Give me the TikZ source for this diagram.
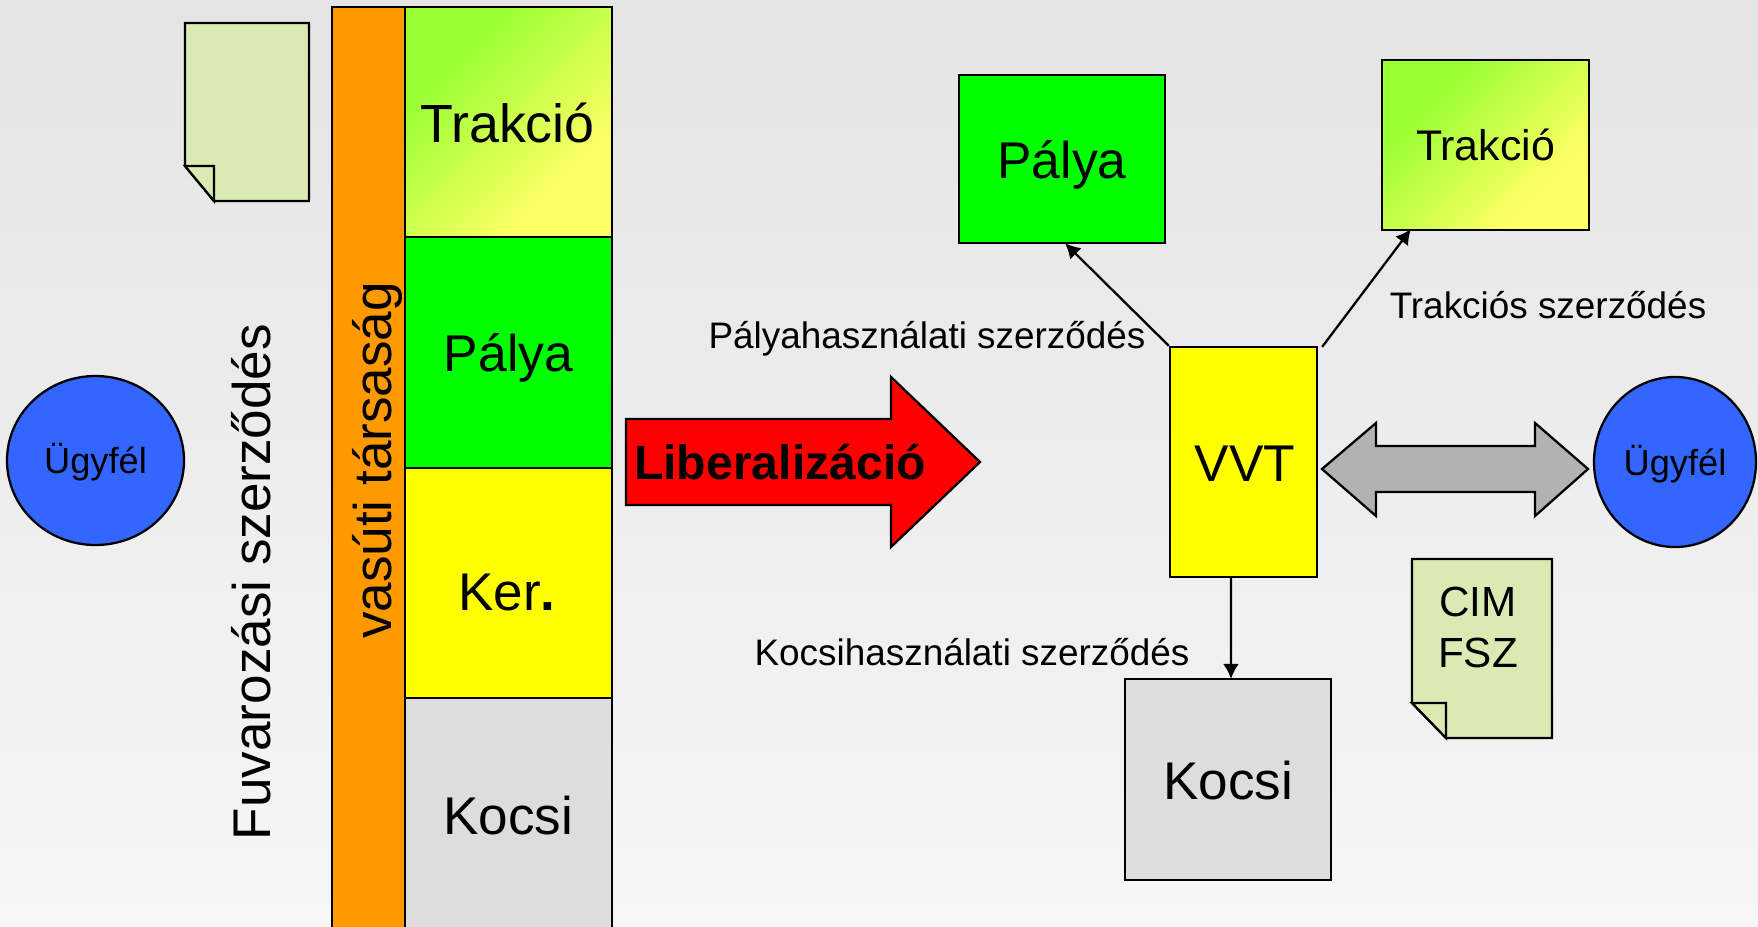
\documentclass[tikz,border=0pt]{standalone}
\usepackage{fontspec}
\setmainfont{Liberation Sans}
\usetikzlibrary{shapes.geometric}
\usetikzlibrary{arrows.meta}
\definecolor{bluecirc}{HTML}{3366FF}
\definecolor{orangebar}{HTML}{FF9900}
\definecolor{notegreen}{HTML}{D9EBB3}
\definecolor{greyblock}{HTML}{DDDDDD}
\definecolor{greyarrow}{HTML}{B2B2B2}
\definecolor{tracgreen}{HTML}{99FF33}
\definecolor{tracyellow}{HTML}{FFFF66}
\definecolor{blockyellow}{HTML}{FFFF00}
\definecolor{blockgreen}{HTML}{00FF00}
\definecolor{arrowred}{HTML}{FF0000}
\definecolor{backtop}{HTML}{E4E4E4}
\definecolor{backbottom}{HTML}{F6F6F6}
\pgfdeclareverticalshading{tracshade}{100bp}{color(0bp)=(tracyellow); color(31bp)=(tracyellow); color(69bp)=(tracgreen); color(100bp)=(tracgreen)}
\begin{document}
\begin{tikzpicture}[y=-1cm,line width=.65pt,>={Latex[length=1.5mm,width=1.6mm]},
block/.style={draw,rectangle,inner sep=0pt,font=\fontsize{15}{18}\selectfont},
tracblock/.style={block,shading=tracshade,shading angle=45},
client/.style={draw,ellipse,fill=bluecirc,inner sep=0pt,font=\fontsize{10.3}{12}\selectfont},
contract/.style={inner sep=0pt,font=\fontsize{10.5}{13}\selectfont},
bigtext/.style={inner sep=0pt,font=\fontsize{15.1}{18}\selectfont},
notepaper/.style={draw,fill=notegreen}]

\useasboundingbox (0,0) rectangle (17.58,9.26);
\clip (0,0) rectangle (17.58,9.26);
\shade[top color=backtop,bottom color=backbottom] (0,0) rectangle (17.58,9.26);

% left column
\draw (3.685,4.70) node[block,fill=orangebar,minimum width=.73cm,minimum height=9.26cm] (Bar) {};
\draw (5.085,1.22) node[tracblock,minimum width=2.07cm,minimum height=2.30cm] (TracL) {};
\draw (5.085,3.525) node[block,fill=blockgreen,minimum width=2.07cm,minimum height=2.31cm] (PalyaL) {};
\draw (5.085,5.83) node[block,fill=blockyellow,minimum width=2.07cm,minimum height=2.30cm] (KerL) {};
\draw (5.085,8.155) node[block,fill=greyblock,minimum width=2.07cm,minimum height=2.35cm] (KocsiL) {};
\draw (5.075,1.23) node[bigtext,font=\fontsize{15.3}{18}\selectfont] (TracLText) {Trakció};
\draw (5.085,3.58) node[bigtext,font=\fontsize{14.7}{18}\selectfont] (PalyaLText) {Pálya};
\draw (5.07,5.92) node[bigtext] (KerText) {Ker\textbf{.}};
\draw (5.08,8.16) node[bigtext] (KocsiLText) {Kocsi};
\draw (3.77,4.605) node[bigtext,rotate=90] (BarText) {vasúti társaság};
\draw (2.51,5.82) node[bigtext,rotate=90] (Fuvar) {Fuvarozási szerződés};

% clients
\draw (.955,4.605) node[client,minimum width=1.77cm,minimum height=1.69cm] (ClientL) {};
\draw (16.75,4.62) node[client,minimum width=1.62cm,minimum height=1.70cm] (ClientR) {};
\draw (.955,4.625) node[client,draw=none,fill=none] (ClientLText) {Ügyfél};
\draw (16.75,4.64) node[client,draw=none,fill=none] (ClientRText) {Ügyfél};

% notes
\draw[notepaper] (1.85,.23) -- (3.09,.23) -- (3.09,2.01) -- (2.14,2.01) -- (1.85,1.66) -- cycle;
\draw[notepaper] (1.85,1.66) -- (2.14,1.66) -- (2.14,2.01) -- cycle;
\draw[notepaper] (14.12,5.59) -- (15.52,5.59) -- (15.52,7.38) -- (14.46,7.38) -- (14.12,7.03) -- cycle;
\draw[notepaper] (14.12,7.03) -- (14.46,7.03) -- (14.46,7.38) -- cycle;
\draw (14.78,6.27) node[inner sep=0pt,align=center,font=\fontsize{12}{14.5}\selectfont] (Cim) {CIM\\FSZ};

% big arrows
\draw[fill=arrowred] (6.26,4.19) -- (8.91,4.19) -- (8.91,3.77) -- (9.80,4.62) -- (8.91,5.47) -- (8.91,5.05) -- (6.26,5.05) -- cycle;
\draw (7.80,4.62) node[inner sep=0pt,font=\bfseries\fontsize{13.7}{16}\selectfont] (Liberal) {Liberalizáció};
\draw[fill=greyarrow] (13.22,4.69) -- (13.76,4.23) -- (13.76,4.46) -- (15.35,4.46) -- (15.35,4.23) -- (15.88,4.69) -- (15.35,5.16) -- (15.35,4.92) -- (13.76,4.92) -- (13.76,5.16) -- cycle;

% right blocks
\draw (10.62,1.59) node[block,fill=blockgreen,minimum width=2.06cm,minimum height=1.68cm] (PalyaR) {};
\draw (14.855,1.45) node[tracblock,minimum width=2.07cm,minimum height=1.70cm,font=\fontsize{12.2}{14}\selectfont] (TracR) {Trakció};
\draw (12.435,4.62) node[block,fill=blockyellow,minimum width=1.47cm,minimum height=2.30cm] (VVT) {};
\draw (12.28,7.795) node[block,fill=greyblock,minimum width=2.06cm,minimum height=2.01cm] (KocsiR) {};
\draw (10.62,1.65) node[bigtext,font=\fontsize{14.7}{18}\selectfont] (PalyaRText) {Pálya};
\draw (12.45,4.64) node[bigtext,font=\fontsize{14.7}{18}\selectfont] (VVTText) {VVT};
\draw (12.28,7.81) node[bigtext] (KocsiRText) {Kocsi};

\draw[->] (VVT.north west) -- ([xshift=.03cm,yshift=.01cm]PalyaR.south);
\draw[->] ([xshift=.04cm,yshift=-.01cm]VVT.north east) -- ([xshift=.30cm,yshift=.02cm]TracR.south west);
\draw[->] ([xshift=-.125cm,yshift=.02cm]VVT.south) -- ([xshift=.03cm,yshift=-.01cm]KocsiR.north);

\draw (9.27,3.39) node[contract] (ContrPalya) {Pályahasználati szerződés};
\draw (15.48,3.05) node[contract] (ContrTrac) {Trakciós szerződés};
\draw (9.72,6.52) node[contract] (ContrKocsi) {Kocsihasználati szerződés};

\end{tikzpicture}
\end{document}
